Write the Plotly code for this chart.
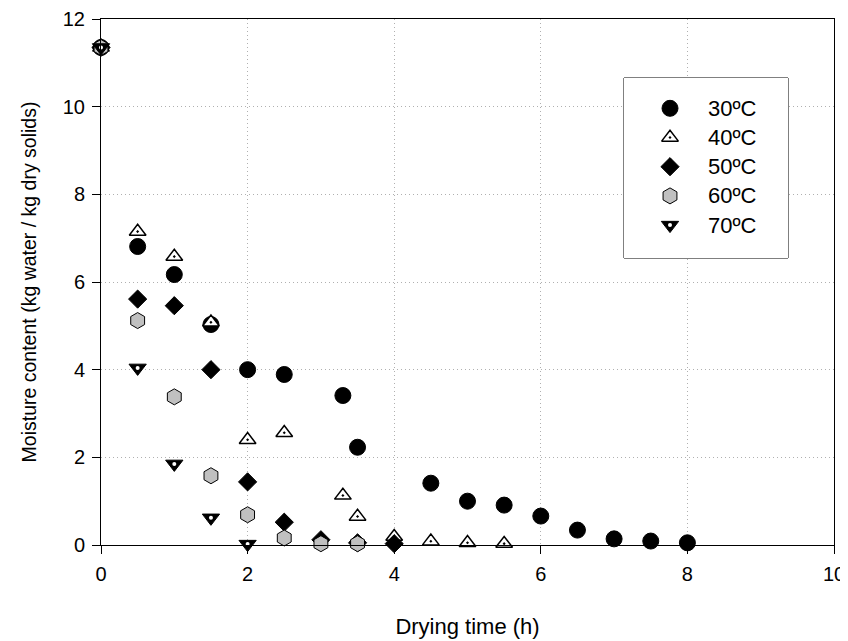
import plotly.graph_objects as go

# ---- data ----
t30 = [0, 0.5, 1, 1.5, 2, 2.5, 3.3, 3.5, 4.5, 5, 5.5, 6, 6.5, 7, 7.5, 8]
m30 = [11.35, 6.81, 6.17, 5.03, 4.0, 3.89, 3.41, 2.23, 1.41, 1.0, 0.91, 0.66, 0.34, 0.14, 0.09, 0.05]

t40 = [0, 0.5, 1, 1.5, 2, 2.5, 3.3, 3.5, 4, 4.5, 5, 5.5]
m40 = [11.35, 7.15, 6.58, 5.08, 2.4, 2.56, 1.13, 0.65, 0.19, 0.085, 0.05, 0.03]

t50 = [0, 0.5, 1, 1.5, 2, 2.5, 3, 3.5, 4]
m50 = [11.35, 5.61, 5.46, 4.0, 1.44, 0.52, 0.12, 0.05, 0.03]

t60 = [0, 0.5, 1, 1.5, 2, 2.5, 3, 3.5]
m60 = [11.35, 5.12, 3.38, 1.58, 0.69, 0.16, 0.03, 0.03]

t70 = [0, 0.5, 1, 1.5, 2]
m70 = [11.35, 4.04, 1.85, 0.62, 0.02]

labels = ["30ºC", "40ºC", "50ºC", "60ºC", "70ºC"]
x_ticks = [0, 2, 4, 6, 8, 10]
y_ticks = [0, 2, 4, 6, 8, 10, 12]

FONT = "Liberation Sans, Arial, sans-serif"

styles = [
    dict(symbol="circle", size=16, color="black", line=dict(color="black", width=1)),
    dict(symbol="triangle-up-dot", size=14.5, color="white", line=dict(color="black", width=1.5)),
    dict(symbol="diamond", size=14, color="black", line=dict(color="black", width=1)),
    dict(symbol="hexagon", size=16, color="#c0c0c0", line=dict(color="black", width=1)),
    dict(symbol="triangle-down", size=15, color="black", line=dict(color="black", width=1)),
]
dot_style = dict(symbol="circle", size=4, color="white", line=dict(width=0))

series = [(t30, m30), (t40, m40), (t50, m50), (t60, m60), (t70, m70)]

fig = go.Figure()
for (tx, my), st, lab in zip(series, styles, labels):
    fig.add_trace(go.Scatter(x=tx, y=my, mode="markers", marker=st, name=lab,
                             showlegend=False, cliponaxis=False, hoverinfo="x+y+name"))
# white centre dots on the 70ºC markers
fig.add_trace(go.Scatter(x=t70, y=m70, mode="markers", marker=dot_style,
                         showlegend=False, cliponaxis=False, hoverinfo="skip"))

# ---- manual legend on an auxiliary axis pair (pixel-like units) ----
LW, LH = 164, 180
leg_x_marker = 46
leg_x_text = 82
row_y = [30.3 + 29.2 * i for i in range(len(labels))]
for st, lab, yy in zip(styles, labels, row_y):
    fig.add_trace(go.Scatter(x=[leg_x_marker], y=[yy], mode="markers", marker=st,
                             xaxis="x2", yaxis="y2", showlegend=False, hoverinfo="skip"))
fig.add_trace(go.Scatter(x=[leg_x_marker], y=[row_y[4]], mode="markers", marker=dot_style,
                         xaxis="x2", yaxis="y2", showlegend=False, hoverinfo="skip"))
for lab, yy in zip(labels, row_y):
    fig.add_annotation(x=leg_x_text, y=yy, xref="x2", yref="y2", text=lab, showarrow=False,
                       xanchor="left", yanchor="middle", font=dict(family=FONT, size=22, color="black"))

fig.add_shape(type="rect", xref="x2 domain", yref="y2 domain", x0=0, x1=1, y0=0, y1=1,
              fillcolor="white", line=dict(color="black", width=1), layer="below")

axis_common = dict(
    showline=True, linecolor="black", linewidth=1, mirror=True,
    ticks="outside", ticklen=8, tickwidth=1, tickcolor="black",
    showgrid=True, gridcolor="#b0b0b0", gridwidth=1, griddash="1px,3px",
    zeroline=False, tickfont=dict(family=FONT, size=20, color="black"),
    automargin=False,
)

# the page body adds an 8px offset, so the figure is 840x633 with shifted margins
fig.update_layout(
    width=840, height=633,
    margin=dict(l=93, r=14, t=11, b=96),
    paper_bgcolor="white", plot_bgcolor="white",
    font=dict(family=FONT, color="black"),
    showlegend=False,
    xaxis=dict(range=[0, 10], tickvals=x_ticks, ticktext=[str(v) for v in x_ticks],
               title=dict(text="Drying time (h)", font=dict(family=FONT, size=22), standoff=34),
               ticklabelstandoff=3, **axis_common),
    yaxis=dict(range=[0, 12], tickvals=y_ticks, ticktext=[str(v) for v in y_ticks],
               title=dict(text="Moisture content (kg water / kg dry solids)",
                          font=dict(family=FONT, size=19.5), standoff=20),
               ticklabelstandoff=3, **axis_common),
    xaxis2=dict(domain=[(624 - 101) / 733, (788 - 101) / 733], range=[0, LW], visible=False,
                fixedrange=True, anchor="y2"),
    yaxis2=dict(domain=[(545 - 258) / 526, (545 - 78) / 526], range=[LH, 0], visible=False,
                fixedrange=True, anchor="x2"),
)

fig.write_html("out.html")
